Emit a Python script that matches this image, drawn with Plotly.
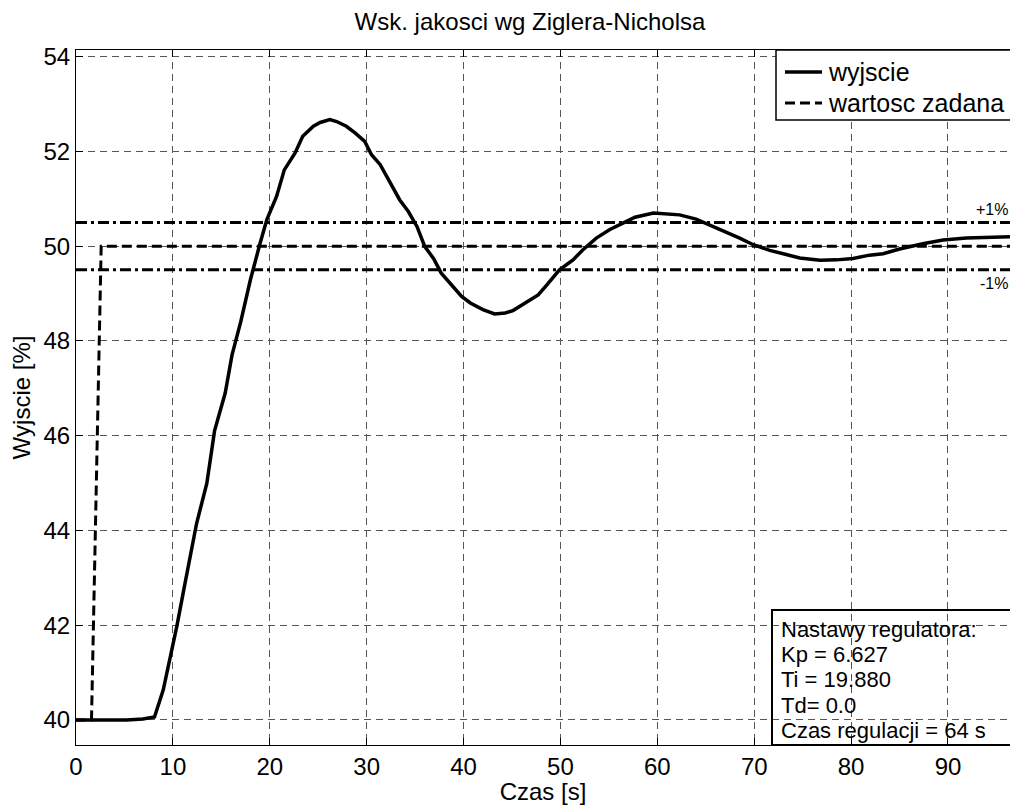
import plotly.graph_objects as go

# Step response of the closed loop (PI controller, Ziegler-Nichols settings)
t_out = [0, 5.2, 6.9, 8.1, 9.0, 9.9, 10.4, 11.25, 12.45, 13.5, 14.3, 15.4, 16.1, 17.0,
         18.0, 19.0, 19.7, 20.7, 21.5, 22.6, 23.4, 24.5, 25.2, 26.2, 26.9, 27.9, 28.8,
         29.8, 30.5, 31.4, 32.4, 33.4, 34.3, 35.2, 36.0, 36.9, 37.7, 38.8, 39.8, 40.7,
         42.0, 43.2, 44.3, 45.1, 46.3, 47.7, 48.6, 49.9, 51.3, 52.3, 53.7, 55.1, 56.5,
         57.7, 59.6, 61.3, 62.3, 64.0, 65.4, 66.8, 68.5, 69.9, 71.6, 73.0, 74.7, 76.8,
         78.5, 80.2, 81.9, 83.3, 85.0, 87.4, 89.5, 91.9, 94.0, 96.4]
y_out = [40.0, 40.0, 40.02, 40.06, 40.63, 41.44, 41.97, 42.88, 44.15, 44.99, 46.1, 46.9,
         47.7, 48.4, 49.29, 50.06, 50.56, 51.05, 51.61, 51.96, 52.32, 52.53, 52.61, 52.67,
         52.63, 52.53, 52.39, 52.21, 51.93, 51.72, 51.36, 50.98, 50.73, 50.41, 49.99,
         49.74, 49.43, 49.18, 48.94, 48.8, 48.66, 48.57, 48.59, 48.64, 48.8, 48.97, 49.18,
         49.5, 49.71, 49.92, 50.17, 50.35, 50.49, 50.61, 50.70, 50.68, 50.66, 50.57,
         50.45, 50.31, 50.17, 50.03, 49.91, 49.84, 49.75, 49.70, 49.71, 49.74, 49.81,
         49.84, 49.94, 50.05, 50.13, 50.17, 50.19, 50.20]

# Set point
t_sp = [0, 1.6, 2.6, 96.4]
y_sp = [40, 40, 50, 50]

# +/-1 % settling band around the final set point
band_t = [0, 96.4]
band_hi = [50.5, 50.5]
band_lo = [49.5, 49.5]

x_ticks = [0, 10, 20, 30, 40, 50, 60, 70, 80, 90]
y_ticks = [40, 42, 44, 46, 48, 50, 52, 54]

info_lines = ["Nastawy regulatora:", "Kp = 6.627", "Ti = 19.880", "Td= 0.0",
              "Czas regulacji = 64 s"]

FONT = "Liberation Sans, Arial, sans-serif"
BAND_DASH = "11px,4px,3px,4px"
SP_DASH = "10px,5px"

fig = go.Figure()
for yy in (band_hi, band_lo):
    fig.add_trace(go.Scatter(x=band_t, y=yy, mode="lines", showlegend=False,
                             line=dict(color="black", width=3, dash=BAND_DASH)))
fig.add_trace(go.Scatter(x=t_sp, y=y_sp, mode="lines", name="wartosc zadana",
                         showlegend=False,
                         line=dict(color="black", width=3, dash=SP_DASH)))
fig.add_trace(go.Scatter(x=t_out, y=y_out, mode="lines", name="wyjscie",
                         showlegend=False,
                         line=dict(color="black", width=3.5)))

# --- helpers for paper coordinates in pixels
L, T, W, H = 76, 50, 934, 695
def px(x):
    return (x - L) / W
def py(y):
    return (T + H - y) / H

shapes = []
annotations = []

# Legend box
shapes.append(dict(type="rect", xref="paper", yref="paper", x0=px(776), x1=px(1030),
                   y0=py(120), y1=py(50), fillcolor="white",
                   line=dict(color="black", width=1.5), layer="above"))
legend_rows = [("wyjscie", "solid", 72), ("wartosc zadana", SP_DASH, 103)]
for label, dash, yc in legend_rows:
    shapes.append(dict(type="line", xref="paper", yref="paper", x0=px(785), x1=px(822),
                       y0=py(yc), y1=py(yc), layer="above",
                       line=dict(color="black", width=3.5 if dash == "solid" else 3,
                                 dash=dash)))
    annotations.append(dict(text=label, xref="paper", yref="paper", x=px(826), y=py(yc),
                            xanchor="left", yanchor="middle", showarrow=False,
                            font=dict(family=FONT, size=25, color="black")))

# Controller settings box
shapes.append(dict(type="rect", xref="paper", yref="paper", x0=px(772), x1=px(1030),
                   y0=0, y1=py(610), line=dict(color="black", width=2), layer="above"))
for txt, yc in zip(info_lines, [629, 654, 679, 705, 730]):
    annotations.append(dict(text=txt, xref="paper", yref="paper", x=px(779), y=py(yc),
                            xanchor="left", yanchor="middle", showarrow=False,
                            font=dict(family=FONT, size=22, color="black")))

# Band labels
annotations.append(dict(text="+1%", xref="paper", yref="y", x=1, y=band_hi[0],
                        xanchor="right", yanchor="bottom", yshift=2, showarrow=False,
                        font=dict(family=FONT, size=16, color="black")))
annotations.append(dict(text="-1%", xref="paper", yref="y", x=1, y=band_lo[0],
                        xanchor="right", yanchor="top", yshift=-3, showarrow=False,
                        font=dict(family=FONT, size=16, color="black")))

grid = dict(showgrid=True, gridcolor="#555555", gridwidth=1, griddash="7px,5px")

fig.update_layout(
    width=1010, height=805,
    margin=dict(l=L, r=0, t=T, b=805 - T - H),
    paper_bgcolor="white", plot_bgcolor="white",
    font=dict(family=FONT, color="black"),
    title=dict(text="Wsk. jakosci wg Ziglera-Nicholsa", x=530 / 1010,
               xanchor="center", y=1 - 22 / 805, yanchor="middle",
               font=dict(family=FONT, size=24, color="black")),
    xaxis=dict(range=[0, 96.4], tickvals=x_ticks, ticks="inside", ticklen=7,
               tickcolor="black", showline=True, linecolor="black", linewidth=1,
               mirror="ticks", zeroline=False, tickfont=dict(size=24),
               title=dict(text="Czas [s]", font=dict(size=24), standoff=2), **grid),
    yaxis=dict(range=[39.47, 54.14], tickvals=y_ticks, ticks="inside", ticklen=7,
               tickcolor="black", showline=True, linecolor="black", linewidth=1,
               zeroline=False, tickfont=dict(size=24),
               title=dict(text="Wyjscie [%]", font=dict(size=24), standoff=6), **grid),
    shapes=shapes,
    annotations=annotations,
)

fig.write_html("out.html")
